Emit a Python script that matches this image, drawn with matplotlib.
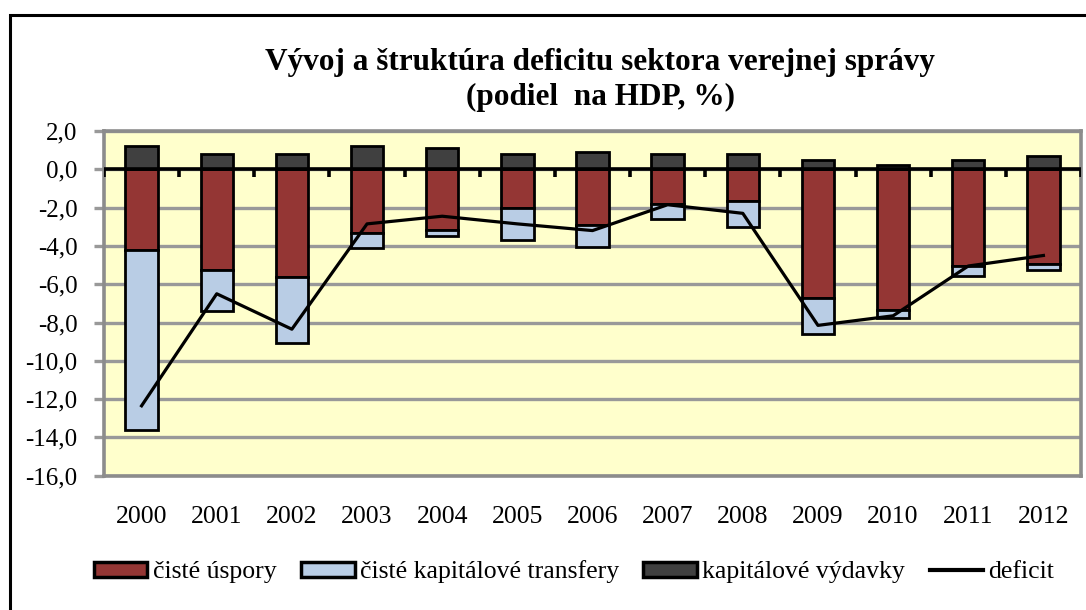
import matplotlib
matplotlib.use("Agg")
import matplotlib.pyplot as plt
from matplotlib.patches import Patch, Rectangle
from matplotlib.lines import Line2D
import numpy as np

years = ["2000", "2001", "2002", "2003", "2004", "2005", "2006",
         "2007", "2008", "2009", "2010", "2011", "2012"]
ciste_uspory = [-4.2, -5.25, -5.6, -3.35, -3.15, -2.0, -2.9, -1.8, -1.65, -6.7, -7.35, -5.05, -4.95]
kapitalove_transfery = [-9.4, -2.15, -3.45, -0.75, -0.35, -1.7, -1.15, -0.8, -1.35, -1.9, -0.4, -0.5, -0.3]
kapitalove_vydavky = [1.2, 0.8, 0.8, 1.2, 1.1, 0.8, 0.9, 0.8, 0.8, 0.5, 0.2, 0.5, 0.7]
deficit = [-12.35, -6.5, -8.35, -2.85, -2.45, -2.85, -3.2, -1.85, -2.3, -8.15, -7.65, -5.05, -4.5]

yticks = np.arange(-16, 2.1, 2)
ytick_labels = [f"{v:.1f}".replace(".", ",") for v in yticks]

title = "Vývoj a štruktúra deficitu sektora verejnej správy\n(podiel  na HDP, %)"
legend_labels = ["čisté úspory", "čisté kapitálové transfery", "kapitálové výdavky", "deficit"]

c_red = "#943634"
c_blue = "#B9CDE5"
c_dark = "#404040"
c_grid = "#999999"

plt.rcParams['font.family'] = ['Liberation Serif', 'DejaVu Serif']

fig = plt.figure(figsize=(10.86, 6.10), dpi=100)
fig.patch.set_facecolor("white")

# outer chart frame (only left and top edges visible)
fig.patches.append(Rectangle((10 / 1086, -0.2), 1.2, 1 - 15 / 610 + 0.2,
                             transform=fig.transFigure, fill=False,
                             edgecolor="black", linewidth=2.2, zorder=0))

ax = fig.add_axes([104 / 1086, 1 - 475.7 / 610, 977 / 1086, (475.7 - 131) / 610])
ax.set_facecolor("#FFFFCC")

x = np.arange(len(years))
w = 0.43
ax.bar(x, ciste_uspory, w, color=c_red, edgecolor="black", linewidth=2.0, zorder=3)
ax.bar(x, kapitalove_transfery, w, bottom=ciste_uspory, color=c_blue,
       edgecolor="black", linewidth=2.0, zorder=3)
ax.bar(x, kapitalove_vydavky, w, color=c_dark, edgecolor="black", linewidth=2.0, zorder=3)

# zero axis with category tick marks
ax.axhline(0, color="black", linewidth=2.6, zorder=4)
bounds = np.arange(len(years) + 1) - 0.5
ax.vlines(bounds, -0.42, 0, color="black", linewidth=2.6, zorder=4)

ax.plot(x, deficit, color="black", linewidth=2.3, zorder=5)

ax.set_xlim(-0.5, len(years) - 0.5)
ax.set_ylim(-16, 2)
ax.set_yticks(yticks)
ax.set_yticklabels(ytick_labels, fontsize=18)
ax.set_xticks(x)
ax.set_xticklabels(years, fontsize=18.5)
ax.yaxis.grid(True, color=c_grid, linewidth=2.4, zorder=0)
ax.set_axisbelow(True)
ax.tick_params(axis="y", length=7, width=2.4, color=c_grid, pad=12)
ax.tick_params(axis="x", length=0, pad=22)
for s in ax.spines.values():
    s.set_color("#8C8C8C")
    s.set_linewidth(2.6)

fig.text(600 / 1086, 1 - 80 / 610, title, ha="center", va="center",
         fontsize=22.5, fontweight="bold", linespacing=1.25)

handles = [Patch(facecolor=c_red, edgecolor="black", linewidth=2.5),
           Patch(facecolor=c_blue, edgecolor="black", linewidth=2.5),
           Patch(facecolor=c_dark, edgecolor="black", linewidth=2.5),
           Line2D([0], [0], color="black", linewidth=3)]
fig.legend(handles, legend_labels, loc="center", bbox_to_anchor=(574 / 1086, 1 - 572 / 610),
           ncol=4, frameon=False, fontsize=18.5, handlelength=2.1, handleheight=0.55,
           handletextpad=0.2, columnspacing=0.95)

fig.savefig("out.png", dpi=100)
